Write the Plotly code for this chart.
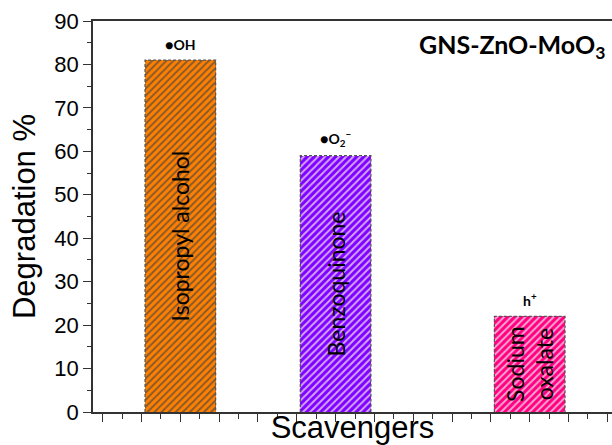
import plotly.graph_objects as go

# ---- data ----
scavengers = ["Isopropyl alcohol", "Benzoquinone", "Sodium<br>oxalate"]
x_pos = [1.0, 3.0, 5.5]
degradation = [81, 59, 22]
species = ["●OH", "●O<sub>2</sub><sup>−</sup>", "h<sup>+</sup>"]
bar_colors = ["#FF8000", "#8000FF", "#FF0080"]
y_ticks = [0, 10, 20, 30, 40, 50, 60, 70, 80, 90]

bar_w = 0.91
hatch_colors = ["rgb(20,10,10)"] * len(bar_colors)

fig = go.Figure()
fig.add_trace(go.Bar(
    x=x_pos, y=degradation, width=bar_w,
    marker=dict(color=bar_colors,
                line=dict(width=0),
                pattern=dict(shape="/", fillmode="overlay",
                             fgcolor=hatch_colors,
                             fgopacity=0.65, size=5, solidity=0.4)),
    showlegend=False, hoverinfo="skip",
))

# dashed outlines of bars, derived from the data
for xp, v in zip(x_pos, degradation):
    xs = [xp - bar_w / 2, xp - bar_w / 2, xp + bar_w / 2, xp + bar_w / 2]
    ys = [0, v, v, 0]
    fig.add_trace(go.Scatter(x=xs, y=ys, mode="lines",
                             line=dict(color="#555555", width=1.2, dash="3px,2px"),
                             showlegend=False, hoverinfo="skip"))

annotations = []
for xp, v, name, sp in zip(x_pos, degradation, scavengers, species):
    annotations.append(dict(x=xp, y=v / 2, xref="x", yref="y", text=name,
                            textangle=-90, showarrow=False,
                            font=dict(family="Lato", size=23, color="black")))
    annotations.append(dict(x=xp, y=v, xref="x", yref="y", text="<b>" + sp + "</b>",
                            yanchor="bottom", yshift=5, showarrow=False,
                            font=dict(family="Lato", size=14, color="black")))
annotations.append(dict(x=0.99, y=0.985, xref="paper", yref="paper",
                        text="<b>GNS-ZnO-MoO<sub>3</sub></b>", xanchor="right",
                        yanchor="top", showarrow=False,
                        font=dict(family="Lato", size=25, color="black")))

axis_font = dict(family="Liberation Sans, Arial", size=22, color="black")

fig.update_layout(
    width=612, height=445,
    margin=dict(l=93, r=0, t=21, b=33),
    paper_bgcolor="white", plot_bgcolor="white",
    annotations=annotations,
    bargap=0,
    xaxis=dict(range=[-0.125, 6.56], showgrid=False, zeroline=False,
               showline=True, linecolor="#333333", linewidth=1.5, mirror=True,
               ticks="outside", tickcolor="#333333", ticklen=8, tickwidth=1.2,
               tick0=0, dtick=0.5, showticklabels=False,
               minor=dict(ticks="outside", ticklen=5, tickcolor="#333333",
                          tickwidth=1.2, dtick=0.25),
               title=dict(text="Scavengers", standoff=4,
                          font=dict(family="Liberation Sans, Arial", size=31,
                                    color="black"))),
    yaxis=dict(range=[0, 90], showgrid=False, zeroline=False,
               showline=True, linecolor="#333333", linewidth=1.5,
               ticks="outside", tickcolor="#333333", ticklen=8, tickwidth=1.2,
               tickvals=y_ticks, tickfont=axis_font,
               minor=dict(ticks="outside", ticklen=4, tickcolor="#333333",
                          tickwidth=1.2, dtick=5),
               title=dict(text="Degradation %", standoff=10,
                          font=dict(family="Liberation Sans, Arial", size=31,
                                    color="black"))),
    yaxis2=dict(range=[0, 90], overlaying="y", side="right", anchor="x",
                showgrid=False, zeroline=False, showline=False,
                ticks="inside", ticklen=4, tickcolor="#333333", tickwidth=1.2,
                tickvals=y_ticks, showticklabels=False),
)

fig.write_html("out.html", config={"displayModeBar": False},
               post_script="document.body.style.margin='0';document.body.style.overflow='hidden';")
